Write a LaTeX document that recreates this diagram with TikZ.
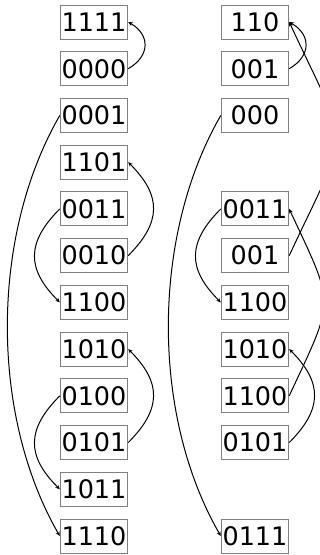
\documentclass[tikz,border=0pt]{standalone}
\usepackage{fontspec}
\setmainfont{DejaVu Sans}
\usetikzlibrary{arrows.meta}
\begin{document}
\begin{tikzpicture}[x=1pt,y=1pt,
  cell/.style={draw=black!50,line width=0.9pt,minimum width=67.5pt,minimum height=34pt,inner sep=0pt,
    font=\fontsize{25.5}{30}\selectfont},
  link/.style={line width=1pt,-{Stealth[length=4.5pt,width=4pt]}}]
\useasboundingbox (0,0) rectangle (320,555);
\foreach \t [count=\i from 0] in {1111,0000,0001,1101,0011,0010,1100,1010,0100,0101,1011,1110}
  \node[cell] (l\i) at (94,{533-\i*46.73}) {\t};
\foreach \t/\i in {110/0,001/1,000/2,0011/4,001/5,1100/6,1010/7,1100/8,0101/9,0111/11}
  \node[cell] (r\i) at (255,{533-\i*46.73}) {\t};
% left column
\draw[link] (l1.east) to[out=30,in=-30,looseness=1.4] (l0.east);
\draw[link] (l5.east) to[out=45,in=-45,looseness=1.3] (l3.east);
\draw[link] (l9.east) to[out=45,in=-45,looseness=1.3] (l7.east);
\draw[link] (l2.west) to[out=240,in=120,looseness=0.85] (l11.west);
\draw[link] (l4.west) to[out=225,in=135,looseness=1.3] (l6.west);
\draw[link] (l8.west) to[out=225,in=135,looseness=1.3] (l10.west);
% right column
\draw[link] (r1.east) to[out=30,in=-30,looseness=1.4] (r0.east);
\draw[link] (r5.east) to[out=65,in=-65,looseness=1.6] (r0.east);
\draw[link] (r8.east) to[out=65,in=-65,looseness=1.5] (r4.east);
\draw[link] (r9.east) to[out=45,in=-45,looseness=1.3] (r7.east);
\draw[link] (r2.west) to[out=240,in=120,looseness=0.85] (r11.west);
\draw[link] (r4.west) to[out=225,in=135,looseness=1.3] (r6.west);
\end{tikzpicture}
\end{document}
